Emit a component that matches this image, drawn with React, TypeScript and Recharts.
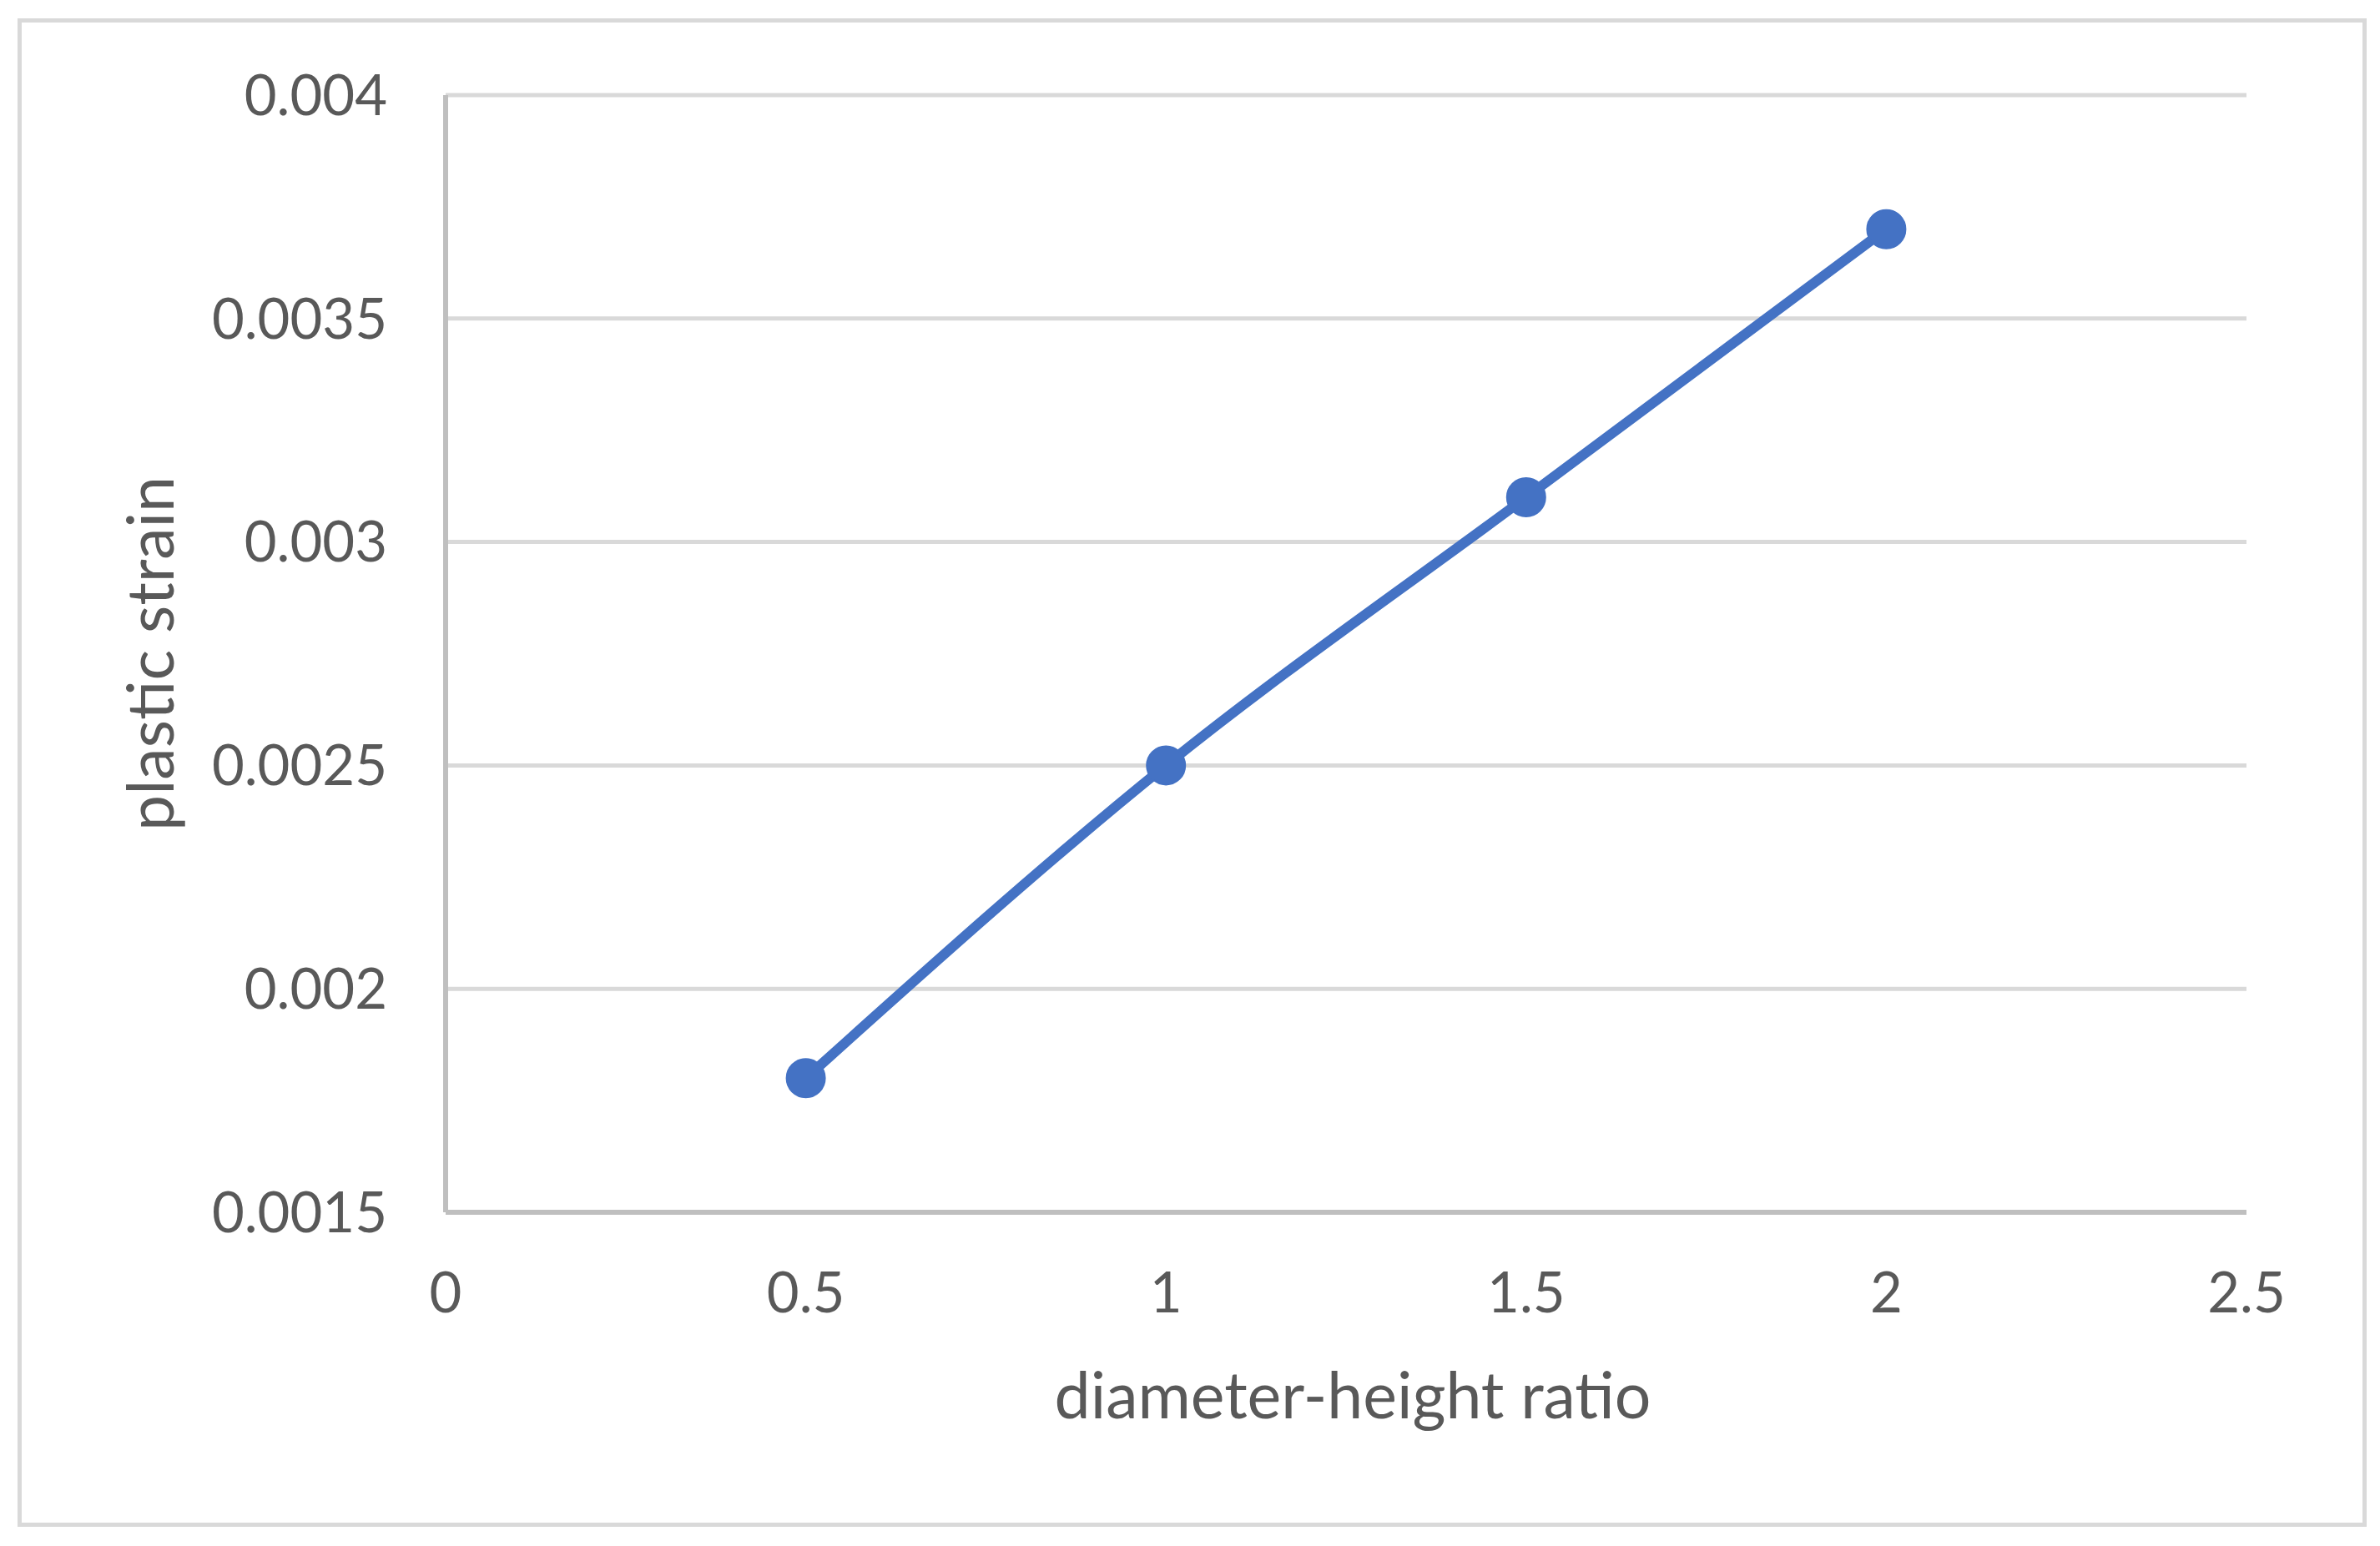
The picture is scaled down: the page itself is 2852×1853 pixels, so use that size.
import { LineChart, Line, XAxis, YAxis, CartesianGrid } from 'recharts';

// diameter-height ratio vs plastic strain
const ratios = [0.5, 1, 1.5, 2];
const strains = [0.0018, 0.0025, 0.0031, 0.0037];

const xTicks = [0, 0.5, 1, 1.5, 2, 2.5];
const yTicks = [0.0015, 0.002, 0.0025, 0.003, 0.0035, 0.004];

const xTitle = 'diameter-height ratio';
const yTitle = 'plastic strain';

const data = ratios.map((r, i) => ({ ratio: r, strain: strains[i] }));

const FONT = 'Lato, "Open Sans", sans-serif';
const TEXT = '#595959';
const BLUE = '#4472C4';

const W = 2852;
const H = 1853;

function XTitle({ viewBox }: any) {
  if (!viewBox) return null;
  return (
    <text
      x={viewBox.x + viewBox.width / 2 + 8}
      y={viewBox.y + 217}
      textAnchor="middle"
      dominantBaseline="central"
      fill={TEXT}
      fontSize={77}
      fontFamily={FONT}
    >
      {xTitle}
    </text>
  );
}

function YTitle({ viewBox }: any) {
  if (!viewBox) return null;
  const cx = viewBox.x + viewBox.width - 356;
  const cy = viewBox.y + viewBox.height / 2;
  return (
    <text
      x={cx}
      y={cy}
      transform={`rotate(-90, ${cx}, ${cy})`}
      textAnchor="middle"
      dominantBaseline="central"
      fill={TEXT}
      fontSize={77}
      fontFamily={FONT}
    >
      {yTitle}
    </text>
  );
}

export default function App() {
  return (
    <div style={{ position: 'absolute', left: 0, top: 0, width: W, height: H, background: '#fff' }}>
      <div
        style={{
          position: 'absolute',
          left: 21,
          top: 22,
          width: 2831 - 21 - 5,
          height: 1825 - 22 - 5,
          border: '5px solid #d9d9d9',
          boxSizing: 'content-box',
        }}
      />
      <LineChart
        width={W}
        height={H}
        data={data}
        margin={{ top: 114, right: 160, bottom: 250, left: 334 }}
        style={{ position: 'absolute', left: 0, top: 0 }}
      >
        <CartesianGrid horizontal vertical={false} stroke="#d9d9d9" strokeWidth={5} />
        <XAxis
          dataKey="ratio"
          type="number"
          domain={[0, 2.5]}
          ticks={xTicks}
          height={150}
          axisLine={{ stroke: '#bfbfbf', strokeWidth: 6 }}
          tickLine={false}
          tickSize={0}
          tickMargin={72}
          tick={{ fill: TEXT, fontSize: 67, fontFamily: FONT }}
          label={<XTitle />}
        />
        <YAxis
          type="number"
          domain={[0.0015, 0.004]}
          ticks={yTicks}
          width={200}
          axisLine={{ stroke: '#bfbfbf', strokeWidth: 6 }}
          tickLine={false}
          tickSize={0}
          tickMargin={70}
          tick={{ fill: TEXT, fontSize: 67, fontFamily: FONT }}
          label={<YTitle />}
        />
        <Line
          type="monotone"
          dataKey="strain"
          stroke={BLUE}
          strokeWidth={12}
          dot={{ r: 23, fill: BLUE, stroke: BLUE, strokeWidth: 2 }}
          activeDot={false}
          isAnimationActive={false}
        />
      </LineChart>
    </div>
  );
}
